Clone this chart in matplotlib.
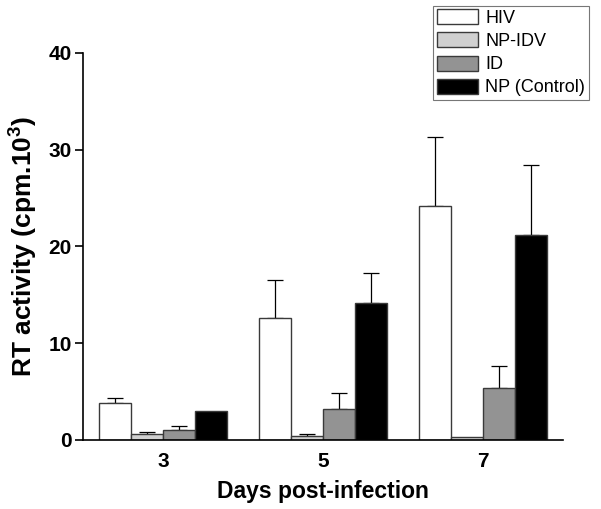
import numpy as np
import matplotlib.pyplot as plt

# =========================
# DONNÉES
# =========================

jours = ["3", "5", "7"]
series = ["HIV", "NP-IDV", "ID", "NP (Control)"]

hiv = [3.8, 12.6, 24.2]
np_idv = [0.6, 0.45, 0.3]
id_ = [1.0, 3.2, 5.4]
np_ctrl = [3.0, 14.2, 21.2]

hiv_err = [0.5, 3.9, 7.1]
np_idv_err = [0.2, 0.2, 0.0]
id_err = [0.45, 1.65, 2.25]
np_ctrl_err = [0.0, 3.1, 7.2]

couleurs = ["white", "#d0d0d0", "#939393", "black"]

# =========================
# STYLE
# =========================

plt.rcParams["font.family"] = ["Liberation Sans", "DejaVu Sans"]
plt.rcParams["mathtext.fontset"] = "custom"
plt.rcParams["mathtext.rm"] = "Liberation Sans"
plt.rcParams["mathtext.it"] = "Liberation Sans:italic"
plt.rcParams["mathtext.bf"] = "Liberation Sans:bold"

# =========================
# GRAPHIQUE
# =========================

fig = plt.figure(figsize=(6.01, 5.09), dpi=100)
ax = fig.add_axes([0.138, 0.1356, 0.799, 0.7604])

x = np.arange(len(jours))
largeur = 0.2
valeurs = [hiv, np_idv, id_, np_ctrl]
erreurs = [hiv_err, np_idv_err, id_err, np_ctrl_err]

for i, (vals, errs, c, nom) in enumerate(zip(valeurs, erreurs, couleurs, series)):
    pos = x + (i - 1.5) * largeur
    ax.bar(pos, vals, width=largeur, color=c, edgecolor="#3a3a3a",
           linewidth=1.0, label=nom, zorder=2)
    errs = np.array(errs)
    masque = errs > 0
    ax.errorbar(pos[masque], np.array(vals)[masque],
                yerr=[np.zeros(masque.sum()), errs[masque]],
                fmt="none", ecolor="black", elinewidth=0.9,
                capsize=6, capthick=0.9, zorder=1)

ax.set_xlim(-0.5, 2.5)
ax.set_ylim(0, 40)
ax.set_xticks(x)
ax.set_xticklabels(jours)
ax.set_yticks([0, 10, 20, 30, 40])

for s in ["top", "right"]:
    ax.spines[s].set_visible(False)
ax.spines["left"].set_linewidth(1.2)
ax.spines["bottom"].set_linewidth(1.2)

ax.tick_params(axis="x", length=0, pad=9, labelsize=15)
ax.tick_params(axis="y", direction="out", length=6, width=1.2, labelsize=15, pad=2)
for lab in ax.get_xticklabels() + ax.get_yticklabels():
    lab.set_fontweight("bold")

ax.set_xlabel("Days post-infection", fontsize=16.5, fontweight="bold", labelpad=6)
ax.set_ylabel("RT activity (cpm.10$^\\mathbf{3}$)", fontsize=19,
              fontweight="bold", labelpad=6)

leg = fig.legend(loc="upper right", bbox_to_anchor=(0.986, 0.996),
                 fontsize=13, frameon=True, fancybox=False,
                 handlelength=2.3, handleheight=0.9, labelspacing=0.3,
                 handletextpad=0.4, borderpad=0.2, borderaxespad=0.2)
leg.get_frame().set_edgecolor("#555555")
leg.get_frame().set_linewidth(0.8)

fig.savefig("out.png", dpi=100)
